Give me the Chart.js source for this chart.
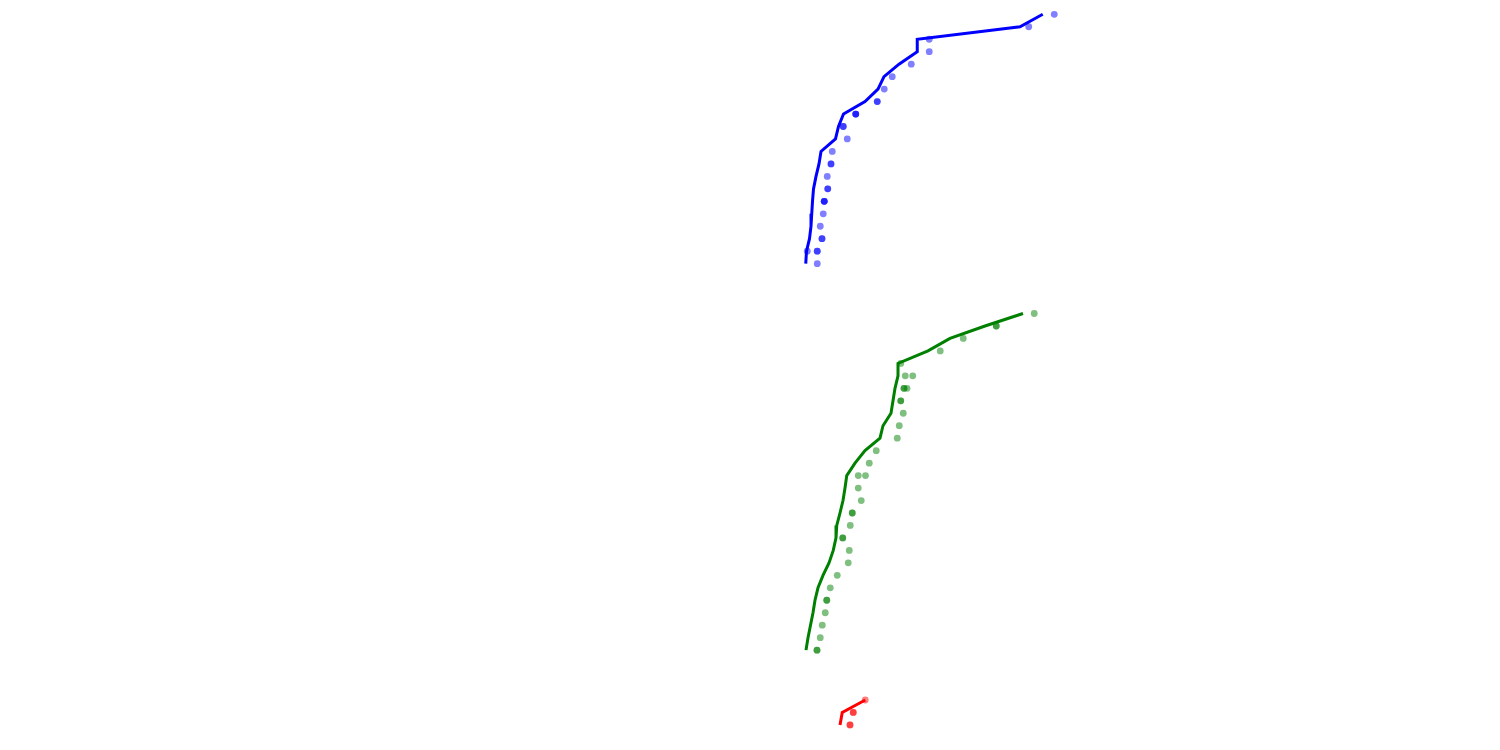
<!DOCTYPE html>
<html>
<head>
<meta charset="utf-8">
<script src="https://cdn.jsdelivr.net/npm/chart.js@4/dist/chart.umd.min.js"></script>
<style>
  html, body { margin: 0; padding: 0; background: #ffffff; }
  #wrap { width: 1500px; height: 750px; position: relative; }
</style>
</head>
<body>
<div id="wrap"><canvas id="c"></canvas></div>
<script>
// Row offsets of each group on the (hidden) vertical category axis
const blueStart = 0;
const greenStart = 24;
const redStart = 55;

// Line series values (one per row, top to bottom)
const blueLine = [95.1, 86.0, 44.9, 44.9, 37.6, 31.6, 29.2, 24.0, 15.4, 13.4, 12.2,
                  6.4, 5.6, 4.4, 3.4, 3.0, 2.7, 2.4, 1.8, 0.6, 0.3];
const greenLine = [87.2, 72.0, 58.0, 49.2, 37.2, 37.2, 36.0, 35.2, 34.4, 31.2, 30.0,
                   24.0, 20.0, 16.7, 16.0, 15.2, 14.0, 12.7, 12.4, 11.3, 9.6,
                   7.2, 5.2, 4.0, 3.2, 2.2, 1.2, 0.4];
const redLine = [24.1, 14.9, 14.0];

// Individual observations: row index (within group) and value
const blueDotRows = [0, 1, 2, 3, 4, 5, 6, 7, 7, 8, 8, 8, 9, 9, 10, 11, 12, 12, 13, 14, 14,
                     15, 15, 15, 16, 17, 18, 18, 19, 19, 19, 20];
const blueDotValues = [99.7, 89.5, 49.7, 49.7, 42.5, 34.9, 31.7, 28.9, 28.9, 20.3, 20.3, 20.3,
                       15.3, 15.3, 16.9, 10.9, 10.4, 10.4, 8.9, 9.1, 9.1,
                       7.7, 7.7, 7.7, 7.3, 6.1, 6.8, 6.8, 4.9, 4.9, 0.9, 4.9];
const greenDotRows = [0, 1, 1, 2, 3, 4, 5, 5, 6, 6, 6, 7, 7, 8, 9, 10, 11, 12, 13, 13, 14, 15,
                      16, 16, 17, 18, 18, 19, 20, 21, 22, 23, 23, 24, 25, 26, 27, 27];
const greenDotValues = [91.7, 76.5, 76.5, 63.3, 54.1, 38.3, 40.1, 43.1, 39.6, 39.6, 40.8, 38.3, 38.3,
                        39.3, 37.7, 36.9, 28.5, 25.7, 21.3, 24.2, 21.3, 22.5,
                        18.9, 18.9, 18.1, 15.1, 15.1, 17.7, 17.3, 12.9, 10.1, 8.7, 8.7,
                        8.1, 6.9, 6.1, 4.8, 4.8];
const redDotRows = [0, 1, 1, 2, 2];
const redDotValues = [24.1, 19.3, 19.3, 18.0, 18.0];

function linePoints(values, start) {
  return values.map((v, i) => ({ x: v, y: start + i }));
}
function dotPoints(rows, values, start) {
  return rows.map((r, i) => ({ x: values[i], y: start + r }));
}

function lineSet(values, start, color) {
  return {
    data: linePoints(values, start),
    showLine: true,
    borderColor: color,
    backgroundColor: color,
    borderWidth: 3,
    pointRadius: 0,
    tension: 0,
    order: 0
  };
}
function dotSet(rows, values, start, color) {
  return {
    data: dotPoints(rows, values, start),
    showLine: false,
    backgroundColor: color,
    borderWidth: 0,
    pointRadius: 3.4,
    order: 1
  };
}

new Chart(document.getElementById('c'), {
  type: 'scatter',
  data: {
    datasets: [
      lineSet(blueLine, blueStart, 'rgb(0,0,255)'),
      lineSet(greenLine, greenStart, 'rgb(0,128,0)'),
      lineSet(redLine, redStart, 'rgb(255,0,0)'),
      dotSet(blueDotRows, blueDotValues, blueStart, 'rgba(0,0,255,0.5)'),
      dotSet(greenDotRows, greenDotValues, greenStart, 'rgba(0,128,0,0.5)'),
      dotSet(redDotRows, redDotValues, redStart, 'rgba(255,0,0,0.5)')
    ]
  },
  options: {
    responsive: true,
    maintainAspectRatio: false,
    animation: false,
    layout: { padding: 0, autoPadding: false },
    plugins: { legend: { display: false }, tooltip: { enabled: false } },
    scales: {
      x: { type: 'linear', display: false, min: -322, max: 278 },
      y: { type: 'linear', display: false, reverse: true, min: -1.147, max: 59.01 }
    }
  }
});
</script>
</body>
</html>
